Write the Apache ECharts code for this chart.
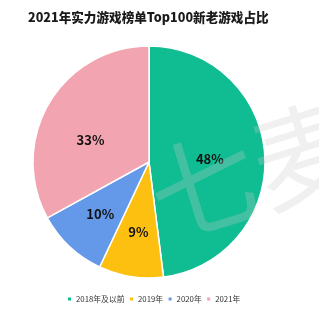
<!DOCTYPE html>
<html><head><meta charset="utf-8">
<script src="https://cdn.jsdelivr.net/npm/echarts@6/dist/echarts.min.js"></script>
<style>html,body{margin:0;padding:0;background:#fff}#c{width:319px;height:314px}</style>
</head><body><div id="c"></div>
<script>
const categories = ['2018年及以前', '2019年', '2020年', '2021年'];
const values = [48, 9, 10, 33];
const colors = ['#10bd93', '#fec010', '#6399e8', '#f2a4b0'];
const labelOffsets = [[0, 1], [-1, 10], [-7, 8], [-6, 9]];
const chart = echarts.init(document.getElementById('c'));
chart.setOption({
  animation: false,
  title: {text: '2021年实力游戏榜单Top100新老游戏占比', left: 23, top: 6,
    textStyle: {fontSize: 12.6, fontWeight: 900, color: '#1a1a1a', fontFamily: 'Noto Sans CJK SC'}},
  color: colors,
  legend: {bottom: 6, left: 61, itemWidth: 5, itemHeight: 5, itemGap: 3.5, icon: 'rect',
    textStyle: {fontSize: 7.8, color: '#333', fontFamily: 'Noto Sans CJK SC', padding: [0,0,0,-1]}},
  graphic: [{type: 'text', left: 136, top: 86, rotation: 0.3, z: 100, silent: true,
    style: {text: '七麦', font: '400 108px "Noto Sans CJK SC"', fill: 'rgba(200,200,200,0.28)'}}],
  series: [{
    type: 'pie', center: [149, 162], radius: [0, 116], startAngle: 90, clockwise: true,
    itemStyle: {borderColor: '#fff', borderWidth: 1.5},
    label: {position: 'inner', formatter: '{c}%', fontSize: 13, fontWeight: 'bold', color: '#111', fontFamily: 'Noto Sans CJK SC'},
    data: categories.map((n, i) => ({name: n, value: values[i], label: {offset: labelOffsets[i]}}))
  }]
});
</script></body></html>
